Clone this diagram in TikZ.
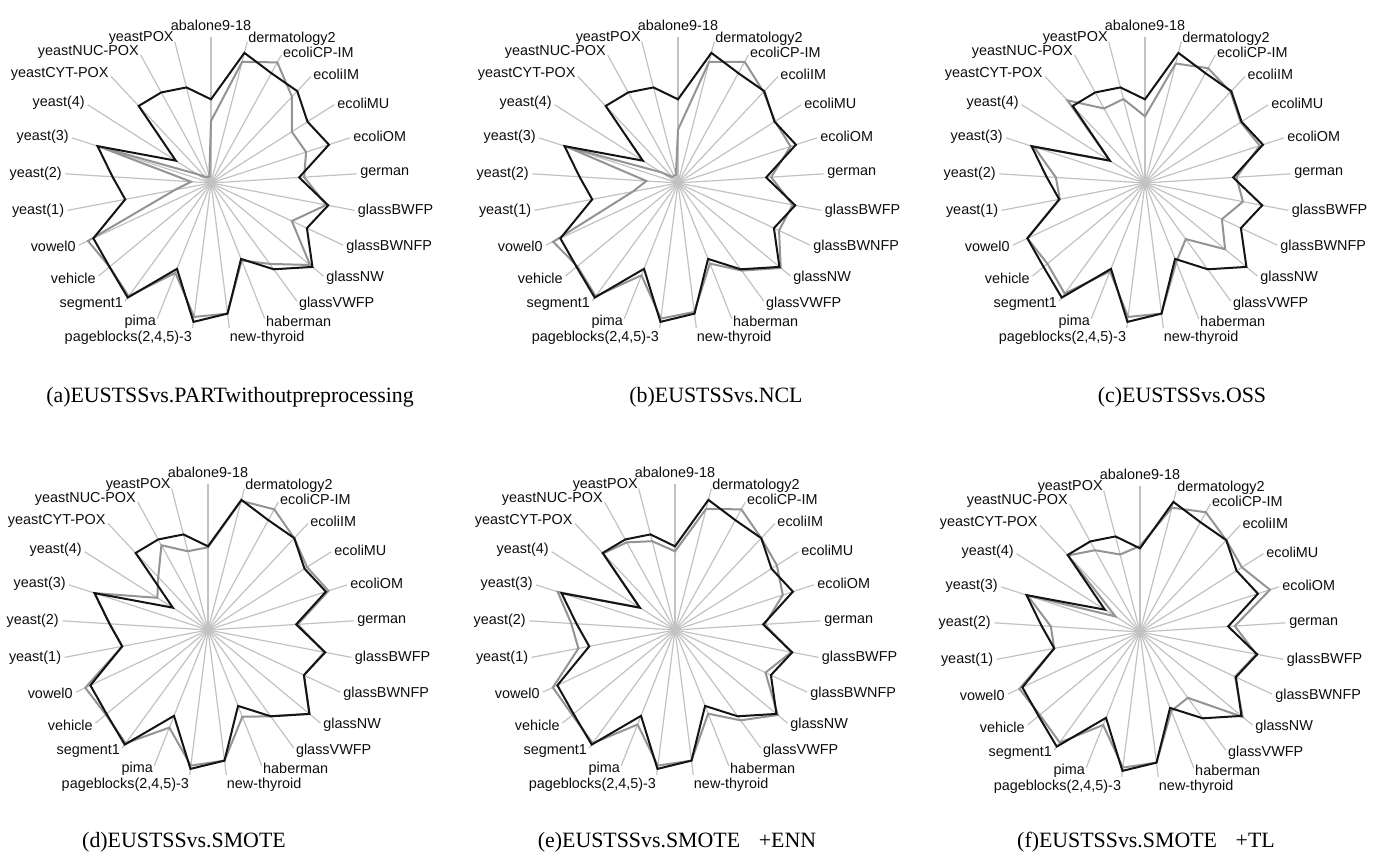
\documentclass[tikz,border=0pt]{standalone}
\usepackage{fontspec}
\setmainfont{Liberation Serif}
\newfontfamily\lblfont{Liberation Sans}
\def\blackfirst{251}
\def\blackrest{403,376,378,343,372,265,358,318,395,320,245,395,420,277,425,395,390,262,296,358,125,317,310,296}
\newcommand\radarchart[4]{%
  \begin{scope}[shift={#2}, scale=0.333333]
    \foreach \nm [count=\i from 0] in {abalone9-18,dermatology2,ecoliCP-IM,ecoliIM,ecoliMU,ecoliOM,german,glassBWFP,glassBWNFP,glassNW,glassVWFP,haberman,new-thyroid,{pageblocks(2,4,5)-3},pima,segment1,vehicle,vowel0,yeast(1),yeast(2),yeast(3),yeast(4),yeastCYT-POX,yeastNUC-POX,yeastPOX}{
      \pgfmathsetmacro\ang{90-14.4*\i}
      \def\rr{448}
      \ifnum\i=0 \def\anc{south}\def\rr{456}\else
        \ifnum\i<12 \def\anc{west}\else
          \ifnum\i=12 \def\anc{north west}\else
            \ifnum\i=13 \def\anc{north east}\else\def\anc{east}\fi
          \fi
        \fi
      \fi
      \draw[spoke] (0,0) -- (\ang:438);
      \node[lbl, anchor=\anc] (#1-l\i) at (\ang:\rr) {\nm};
    }
    \draw[gser] (90:#3) \foreach \r [count=\i] in {#4} { -- ({90-14.4*\i}:\r) } -- cycle;
    \draw[bser] (90:\blackfirst) \foreach \r [count=\i] in \blackrest { -- ({90-14.4*\i}:\r) } -- cycle;
  \end{scope}
}
\begin{document}
\begin{tikzpicture}[x=0.75pt,y=0.75pt,
  spoke/.style={draw=black!24, line width=0.9pt},
  series/.style={line width=1.5pt, line join=miter, miter limit=4},
  gser/.style={series, draw=black!42},
  bser/.style={series, draw=black!92},
  lbl/.style={font=\lblfont\fontsize{10.8}{12}\selectfont, inner sep=0pt, text=black!95},
  ttl/.style={font=\fontsize{16.4}{18}\selectfont, anchor=base, inner sep=0pt}]
\useasboundingbox (0,0) rectangle (1382,853);

\radarchart{a}{(211,670)}{186}{375,413,355,287,300,280,352,268,386,300,250,395,405,290,420,395,408,110,60,350,50,25,20,20}
\radarchart{b}{(678,670)}{160}{375,415,375,345,355,280,350,335,400,325,260,390,410,298,420,392,414,138,95,350,60,25,25,25}
\radarchart{c}{(1145,670)}{200}{370,393,375,340,362,275,299,255,312,208,255,395,405,285,410,380,390,260,268,350,125,340,255,260}
\radarchart{d}{(208,223)}{248}{400,413,378,352,380,270,355,318,395,320,280,395,410,315,420,398,407,262,296,358,180,218,290,244}
\radarchart{e}{(675,223)}{236}{375,413,378,362,340,270,355,300,400,335,270,395,410,305,420,400,405,295,312,370,125,315,300,275}
\radarchart{f}{(1140,221)}{258}{385,410,378,362,410,285,355,315,400,244,255,395,410,300,410,390,400,262,268,355,87,315,280,240}

\node[ttl] (ta) at (230,450) {(a)EUSTSSvs.PARTwithoutpreprocessing};
\node[ttl] (tb) at (716,450) {(b)EUSTSSvs.NCL};
\node[ttl] (tc) at (1182,450) {(c)EUSTSSvs.OSS};
\node[ttl] (td) at (184,5) {(d)EUSTSSvs.SMOTE};
\node[ttl] (te) at (677,5) {(e)EUSTSSvs.SMOTE\hspace{14pt}+ENN};
\node[ttl] (tf) at (1146,5) {(f)EUSTSSvs.SMOTE\hspace{14pt}+TL};
\end{tikzpicture}
\end{document}
